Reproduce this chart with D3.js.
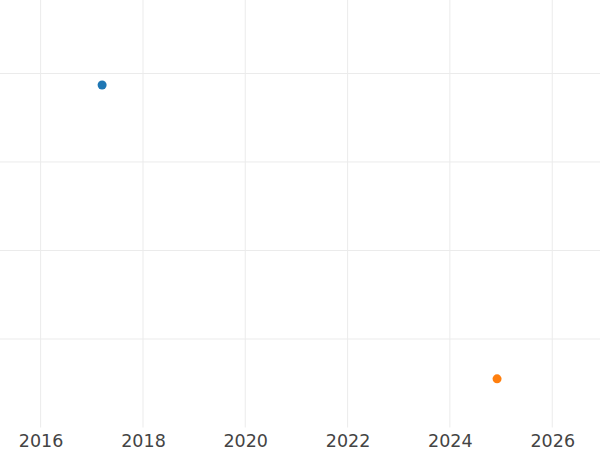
<!DOCTYPE html>
<html>
<head>
<meta charset="utf-8">
<script src="https://cdn.jsdelivr.net/npm/d3@7"></script>
<style>
  body { margin: 0; background: #fff; }
  svg { display: block; font-family: "DejaVu Sans", sans-serif; }
</style>
</head>
<body>
<svg width="600" height="450"></svg>
<script>
const dates = ["2017-03-15", "2024-12-03"];
const values = [3.87, 0.55];
const colors = ["#1f77b4", "#ff7f0e"];
const xTicks = ["2016", "2018", "2020", "2022", "2024", "2026"];
const yTicks = [1, 2, 3, 4];

const parse = d3.timeParse("%Y-%m-%d");
const points = dates.map((d, i) => ({date: parse(d), value: values[i], color: colors[i]}));

const svg = d3.select("svg");
const width = 600, plotBottom = 427.5;

const x = d3.scaleTime()
  .domain([parse("2015-03-17"), parse("2026-12-08")])
  .range([0, width]);
const y = d3.scaleLinear()
  .domain([0, 4.83])
  .range([plotBottom, 0]);

// grid
svg.append("g")
  .attr("stroke", "#ebebeb")
  .attr("stroke-width", 1)
  .selectAll("line.v")
  .data(xTicks).enter()
  .append("line")
  .attr("x1", t => x(parse(t + "-01-01")))
  .attr("x2", t => x(parse(t + "-01-01")))
  .attr("y1", 0)
  .attr("y2", plotBottom);

svg.append("g")
  .attr("stroke", "#ebebeb")
  .attr("stroke-width", 1)
  .selectAll("line")
  .data(yTicks).enter()
  .append("line")
  .attr("x1", 0)
  .attr("x2", width)
  .attr("y1", v => y(v))
  .attr("y2", v => y(v));

// x axis labels
const xAxis = d3.axisBottom(x)
  .tickValues(xTicks.map(t => parse(t + "-01-01")))
  .tickFormat(d3.timeFormat("%Y"))
  .tickSize(0)
  .tickPadding(0);

svg.append("g")
  .attr("transform", `translate(0,${plotBottom})`)
  .call(xAxis)
  .call(g => g.select(".domain").remove())
  .call(g => g.selectAll("text")
    .attr("fill", "#444")
    .attr("font-size", 17.5)
    .attr("font-family", "DejaVu Sans, sans-serif")
    .attr("dy", null)
    .attr("y", 19.5));

// points
svg.append("g")
  .selectAll("circle")
  .data(points).enter()
  .append("circle")
  .attr("cx", d => x(d.date))
  .attr("cy", d => y(d.value))
  .attr("r", 4.5)
  .attr("fill", d => d.color);
</script>
</body>
</html>
